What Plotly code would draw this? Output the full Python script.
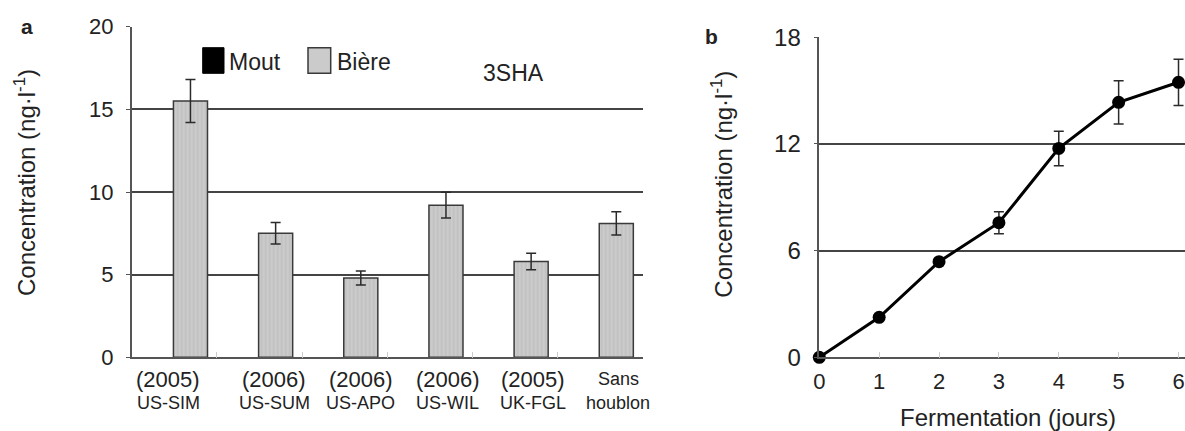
import plotly.graph_objects as go

# ---------------- data ----------------
years = ["(2005)", "(2006)", "(2006)", "(2006)", "(2005)", "Sans"]
varieties = ["US-SIM", "US-SUM", "US-APO", "US-WIL", "UK-FGL", "houblon"]
biere = [15.5, 7.5, 4.8, 9.2, 5.8, 8.1]
biere_err = [1.3, 0.65, 0.42, 0.78, 0.5, 0.7]

days = [0, 1, 2, 3, 4, 5, 6]
conc = [0.0, 2.25, 5.38, 7.57, 11.75, 14.34, 15.47]
conc_err = [0.0, 0.0, 0.0, 0.62, 0.97, 1.22, 1.3]

left_yticks = [0, 5, 10, 15, 20]
right_yticks = [0, 6, 12, 18]

# ---------------- layout helpers ----------------
W, H = 1185, 431
FONT = "Liberation Sans, Arial, sans-serif"
TXT = "#222222"


def px(x):
    return x / W


def py(y):
    return 1 - y / H


cats = [f"c{i}" for i in range(len(biere))]

fig = go.Figure()

fig.add_trace(go.Bar(
    x=cats, y=biere, xaxis="x", yaxis="y",
    width=0.4, offset=-0.01,
    marker=dict(color="#cbcbcb", line=dict(color="#3a3a3a", width=1.5),
                pattern=dict(shape="|", fgcolor="#a9a9a9", bgcolor="#cbcbcb",
                             size=4, solidity=0.25, fillmode="overlay")),
    error_y=dict(type="data", array=biere_err, color="#2a2a2a", thickness=1.5, width=5),
    showlegend=False, hoverinfo="skip",
))

fig.add_trace(go.Scatter(
    x=days, y=conc, xaxis="x2", yaxis="y2", mode="lines+markers",
    line=dict(color="black", width=3),
    marker=dict(color="black", size=13),
    error_y=dict(type="data", array=conc_err, color="#2a2a2a", thickness=1.5, width=5),
    showlegend=False, hoverinfo="skip", cliponaxis=False,
))

line_common = dict(showline=True, linecolor="#555555", linewidth=1.5, automargin=False,
                   zeroline=False)
f_left = dict(family=FONT, size=22, color=TXT)
f_right = dict(family=FONT, size=24, color=TXT)

fig.update_layout(
    width=W, height=H,
    margin=dict(l=0, r=0, t=0, b=0, pad=0, autoexpand=False),
    paper_bgcolor="white", plot_bgcolor="white",
    font=dict(family=FONT, color=TXT),
    xaxis=dict(domain=[px(131.7), px(642.7)], anchor="y", type="category",
               range=[-0.5, 5.5], showticklabels=False, showgrid=False,
               tickson="boundaries", ticks="inside", ticklen=6, tickcolor="#cccccc",
               tickfont=f_left, **line_common),
    yaxis=dict(domain=[py(357.3), py(26.7)], anchor="x", range=[0, 20],
               tickvals=left_yticks, ticks="outside", ticklen=4, tickcolor="#555555",
               showgrid=False, ticklabelstandoff=8, tickfont=f_left,
               minor=dict(tickvals=[5, 10, 15], showgrid=True, gridcolor="#444444",
                          gridwidth=1.5, ticks=""),
               **line_common),
    xaxis2=dict(domain=[px(819.3), px(1184.5)], anchor="y2", range=[0, 6.1],
                tickvals=days, ticks="inside", ticklen=6, tickcolor="#cccccc",
                showgrid=False, ticklabelstandoff=4,
                tickfont=dict(family=FONT, size=22, color=TXT), **line_common),
    yaxis2=dict(domain=[py(357.3), py(37.3)], anchor="x2", range=[0, 18],
                tickvals=right_yticks, ticks="outside", ticklen=4, tickcolor="#555555",
                showgrid=False, ticklabelstandoff=8, tickfont=f_right,
                minor=dict(tickvals=[6, 12], showgrid=True, gridcolor="#444444",
                           gridwidth=1.5, ticks=""),
                **line_common),
)

ann = []
# category labels (left panel)
shifts = [-6, 15, 16, 18, 18, 18]
for i, (yr, nm) in enumerate(zip(years, varieties)):
    small = yr == "Sans"
    ann.append(dict(x=cats[i], xref="x", y=py(379), yref="paper", text=yr,
                    showarrow=False, xshift=shifts[i], xanchor="center", yanchor="middle",
                    font=dict(family=FONT, size=18 if small else 22, color=TXT)))
    ann.append(dict(x=cats[i], xref="x", y=py(402.7), yref="paper", text=nm,
                    showarrow=False, xshift=shifts[i], xanchor="center", yanchor="middle",
                    font=dict(family=FONT, size=18, color=TXT)))

ytitle = "Concentration (ng·l<sup>-1</sup>)"


def label(x, y, text, size, angle=0, xanchor="center"):
    return dict(x=px(x), y=py(y), xref="paper", yref="paper", text=text,
                textangle=angle, showarrow=False, xanchor=xanchor, yanchor="middle",
                font=dict(family=FONT, size=size, color=TXT))


ann += [
    label(27, 27, "<b>a</b>", 21),
    label(711.7, 36.7, "<b>b</b>", 21),
    label(25, 183, ytitle, 24, angle=-90),
    label(721.7, 184, ytitle, 24, angle=-90),
    label(1008, 417, "Fermentation (jours)", 24),
    label(227, 62, "Mout", 23, xanchor="left"),
    label(335, 62, "Bière", 23, xanchor="left"),
    label(513, 73, "3SHA", 23),
]
fig.update_layout(annotations=ann)

fig.update_layout(shapes=[
    dict(type="rect", xref="paper", yref="paper", x0=px(202.7), x1=px(224),
         y0=py(73.3), y1=py(47.7), fillcolor="black", line=dict(color="black", width=1)),
    dict(type="rect", xref="paper", yref="paper", x0=px(308), x1=px(330.7),
         y0=py(73.3), y1=py(47.7), fillcolor="#cbcbcb", line=dict(color="#3a3a3a", width=1.5)),
])

fig.write_html("out.html", config={"displayModeBar": False},
               post_script="document.body.style.margin='0px';document.body.style.overflow='hidden';")
